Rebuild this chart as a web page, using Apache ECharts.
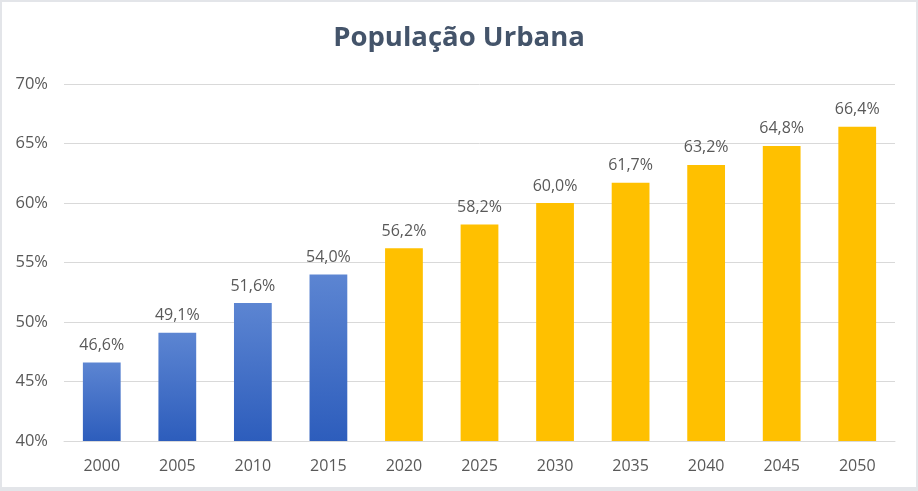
<!DOCTYPE html>
<html>
<head>
<meta charset="utf-8">
<script src="https://cdn.jsdelivr.net/npm/echarts@6/dist/echarts.min.js"></script>
<style>
html,body{margin:0;padding:0;background:#E3E5E9;width:918px;height:491px;overflow:hidden;}
#frame{position:absolute;left:2px;top:2px;width:914px;height:485px;background:#fff;}
#chart{position:absolute;left:-2px;top:-2px;width:918px;height:491px;}
</style>
</head>
<body>
<div id="frame"><div id="chart"></div></div>
<script>
const categories = ['2000','2005','2010','2015','2020','2025','2030','2035','2040','2045','2050'];
const values = [46.6, 49.1, 51.6, 54.0, 56.2, 58.2, 60.0, 61.7, 63.2, 64.8, 66.4];
const historicalCount = 4;
const yTicks = { min: 40, max: 70, interval: 5 };

const FONT = 'Open Sans';
const blueGrad = new echarts.graphic.LinearGradient(0, 0, 0, 1, [
  { offset: 0, color: '#5C85D2' },
  { offset: 1, color: '#2D5DBC' }
]);
const data = values.map((v, i) => ({
  value: v,
  itemStyle: { color: i < historicalCount ? blueGrad : '#FFC000' }
}));

const chart = echarts.init(document.getElementById('chart'), null, { renderer: 'canvas' });
chart.setOption({
  animation: false,
  title: {
    text: 'População Urbana',
    left: 'center',
    top: 19,
    textStyle: { fontFamily: FONT, fontWeight: 'bold', fontSize: 27.5, color: '#44546A' }
  },
  grid: { left: 64, right: 23, top: 84, bottom: 50, containLabel: false },
  xAxis: {
    type: 'category',
    data: categories,
    axisLine: { lineStyle: { color: '#D9D9D9' } },
    axisTick: { show: false },
    axisLabel: { color: '#595959', fontFamily: FONT, fontSize: 16, margin: 17 }
  },
  yAxis: {
    type: 'value',
    min: yTicks.min, max: yTicks.max, interval: yTicks.interval,
    axisLine: { show: false },
    axisTick: { show: false },
    splitLine: { lineStyle: { color: '#D9D9D9', width: 1 } },
    axisLabel: {
      color: '#595959', fontFamily: FONT, fontSize: 16.5, margin: 16,
      formatter: v => v + '%'
    }
  },
  series: [{
    type: 'bar',
    data: data,
    barCategoryGap: '50%',
    label: {
      show: true, position: 'top', distance: 9,
      color: '#595959', fontFamily: FONT, fontSize: 16,
      formatter: p => p.value.toFixed(1).replace('.', ',') + '%'
    }
  }]
});
</script>
</body>
</html>
